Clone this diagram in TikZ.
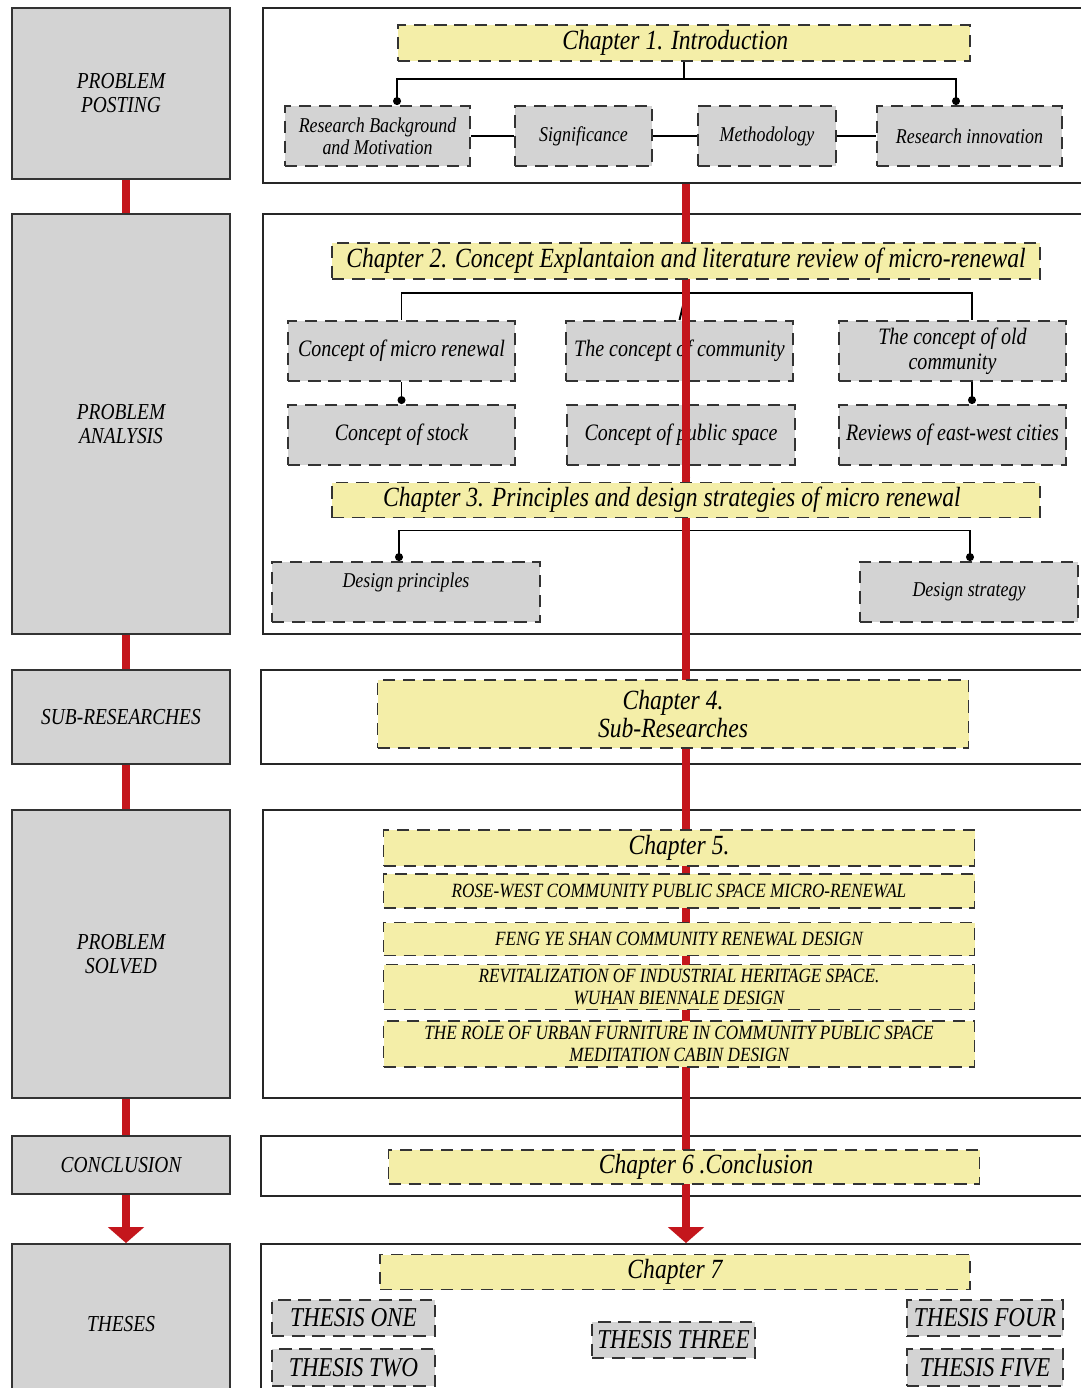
\documentclass[tikz,border=0pt]{standalone}
\usepackage{fontspec}
\setmainfont{Liberation Serif}[FakeStretch=0.85]
\usetikzlibrary{arrows.meta}

\definecolor{chapyellow}{HTML}{F4EEA8}
\definecolor{boxgray}{HTML}{D3D3D3}
\definecolor{flowred}{HTML}{C4161C}

\pgfdeclarelayer{lower}
\pgfdeclarelayer{redline}
\pgfsetlayers{lower,redline,main}

\tikzset{
  sz/.style 2 args={minimum width=#1*0.02cm, minimum height=#2*0.02cm},
  stage/.style={draw=black!80, fill=boxgray, line width=1.1pt, inner sep=0pt, align=center,
    font=\fontsize{13}{13.6}\selectfont\itshape},
  frame/.style={draw=black!85, line width=1.1pt, inner sep=0pt},
  chap/.style={draw=black!80, fill=chapyellow, dash pattern=on 7pt off 4.5pt, line width=1.1pt,
    inner sep=0pt, align=center, font=\fontsize{15.8}{16}\selectfont\itshape},
  item/.style={chap, font=\fontsize{11.5}{12.5}\selectfont\itshape},
  sub/.style={chap, fill=boxgray, font=\fontsize{13.4}{14}\selectfont\itshape},
  small/.style={font=\fontsize{12}{12.5}\selectfont\itshape},
  thesis/.style={sub, font=\fontsize{15.5}{15.5}\selectfont\itshape},
  link/.style={draw=black, line width=1.1pt},
  dot/.style={-{Circle[length=4.5pt]}},
  flow/.style={draw=flowred, line width=5pt},
  flowend/.style={flow, -{Triangle[length=9pt, width=20pt]}},
}

\begin{document}
\begin{tikzpicture}[x=0.02cm, y=-0.02cm]
\useasboundingbox (0,0) rectangle (1080,1388);

% chapters (kept above the red line)
\node[chap, sz={572}{36}] (c1) at (684,43) {Chapter 1. Introduction\hspace*{10pt}};
\node[chap, sz={708}{36}] (c2) at (686,261) {Chapter 2. Concept Explantaion and literature review of micro-renewal};
\node[chap, sz={708}{35}] (c3) at (686,500) {Chapter 3. Principles and design strategies of micro renewal\hspace*{16pt}};
\node[chap, sz={591}{68}] (c4) at (673,714) {Chapter 4.\\Sub-Researches};
\node[chap, sz={591}{36}] (c5) at (679,848) {Chapter 5.};
\node[item, sz={591}{34}] (r1) at (679,891) {ROSE-WEST COMMUNITY PUBLIC SPACE MICRO-RENEWAL};
\node[item, sz={591}{33}] (r2) at (679,939) {FENG YE SHAN COMMUNITY RENEWAL DESIGN};
\node[item, sz={591}{45}] (r3) at (679,987) {REVITALIZATION OF INDUSTRIAL HERITAGE SPACE.\\WUHAN BIENNALE DESIGN};
\node[item, sz={591}{46}] (r4) at (679,1044) {THE ROLE OF URBAN FURNITURE IN COMMUNITY PUBLIC SPACE\\MEDITATION CABIN DESIGN};
\node[chap, sz={591}{34}] (c6) at (684,1167) {\hspace*{25pt}Chapter 6 .Conclusion};
\node[chap, sz={590}{35}] (c7) at (675,1272) {Chapter 7};

\begin{pgfonlayer}{lower}
\fill[white] (0,0) rectangle (1080,1388);

% frames on the right
\node[frame, sz={827}{175}] (f1) at (676.5,95.5) {};
\node[frame, sz={827}{420}] (f2) at (676.5,424) {};
\node[frame, sz={829}{94}] (f3) at (675.5,717) {};
\node[frame, sz={827}{288}] (f4) at (676.5,954) {};
\node[frame, sz={829}{60}] (f5) at (675.5,1166) {};
\node[frame, sz={829}{160}] (f6) at (675.5,1324) {};

% stages on the left
\node[stage, sz={218}{171}] (post) at (121,93.5) {PROBLEM\\POSTING};
\node[stage, sz={218}{420}] (anal) at (121,424) {PROBLEM\\ANALYSIS};
\node[stage, sz={218}{94}] (subr) at (121,717) {SUB-RESEARCHES};
\node[stage, sz={218}{288}] (solv) at (121,954) {PROBLEM\\SOLVED};
\node[stage, sz={218}{58}] (conc) at (121,1165) {CONCLUSION};
\node[stage, sz={218}{160}] (thes) at (121,1324) {THESES};

% chapter 1
\node[sub, small, sz={185}{60}] (bg) at (377.5,136) {Research Background\\and Motivation};
\node[sub, small, sz={137}{60}] (sig) at (583.5,136) {Significance};
\node[sub, small, sz={138}{60}] (meth) at (767,136) {Methodology};
\node[sub, small, sz={185}{60}] (inno) at (969.5,136) {Research innovation};

% chapter 2
\node[sub, sz={227}{60}] (micro) at (401.5,351) {Concept of micro renewal};
\node[sub, sz={227}{60}] (comm) at (679.5,351) {The concept of community};
\node[sub, sz={227}{60}] (oldc) at (952.5,351) {The concept of old\\community};
\node[sub, sz={227}{60}] (stock) at (401.5,435) {Concept of stock};
\node[sub, sz={228}{60}] (pub) at (681,435) {Concept of public space};
\node[sub, sz={227}{60}] (rev) at (952.5,435) {Reviews of east-west cities};

% chapter 3
\node[sub, small, sz={268}{60}, text depth=14pt] (prin) at (406,592) {Design principles};
\node[sub, small, sz={218}{60}] (strat) at (969,592) {Design strategy};

% chapter 7
\node[thesis, sz={163}{36}] (t1) at (353.5,1318) {THESIS ONE};
\node[thesis, sz={163}{37}] (t2) at (353.5,1367.5) {THESIS TWO};
\node[thesis, sz={163}{36}] (t3) at (673.5,1340) {THESIS THREE};
\node[thesis, sz={156}{36}] (t4) at (985,1318) {THESIS FOUR};
\node[thesis, sz={156}{37}] (t5) at (985,1367.5) {THESIS FIVE};

% links
\coordinate (x1) at (956,0);
\coordinate (x2) at (972,0);
\coordinate (x3) at (399,0);
\coordinate (x4) at (970,0);
\draw[link] (c1.south) -- ++(0,17) coordinate (j1);
\draw[link, dot] (j1) -| (c1.west |- bg.north);
\draw[link, dot] (j1) -| (x1 |- inno.north);
\draw[link] (bg.east) -- (sig.west);
\draw[link] (sig.east) -- (meth.west);
\draw[link] (meth.east) -- (inno.west);

\draw[link] (c2.south) -- ++(0,13) coordinate (j2);
\draw[link] (micro.north) |- (j2) -| (x2 |- oldc.north);
\draw[link] (j2) -- (comm.north);
\draw[link, dot] (micro.south) -- (stock.north);
\draw[link, dot] (x2 |- oldc.south) -- (x2 |- rev.north);
\draw[link, dot] (pub.south -| c3.north) -- (c3.north);

\draw[link] (c3.south) -- ++(0,12) coordinate (j3);
\draw[link, dot] (j3) -| (x3 |- prin.north);
\draw[link, dot] (j3) -| (x4 |- strat.north);
\end{pgfonlayer}

% red flow
\begin{pgfonlayer}{redline}
\coordinate (lx) at (126,0);
\coordinate (mx) at (686,0);
\draw[flow] (post.south -| lx) -- (anal.north -| lx);
\draw[flow] (anal.south -| lx) -- (subr.north -| lx);
\draw[flow] (subr.south -| lx) -- (solv.north -| lx);
\draw[flow] (solv.south -| lx) -- (conc.north -| lx);
\draw[flowend] (conc.south -| lx) -- (thes.north -| lx);
\draw[flowend] (f1.south -| mx) -- (f6.north -| mx);
\end{pgfonlayer}
\end{tikzpicture}
\end{document}
